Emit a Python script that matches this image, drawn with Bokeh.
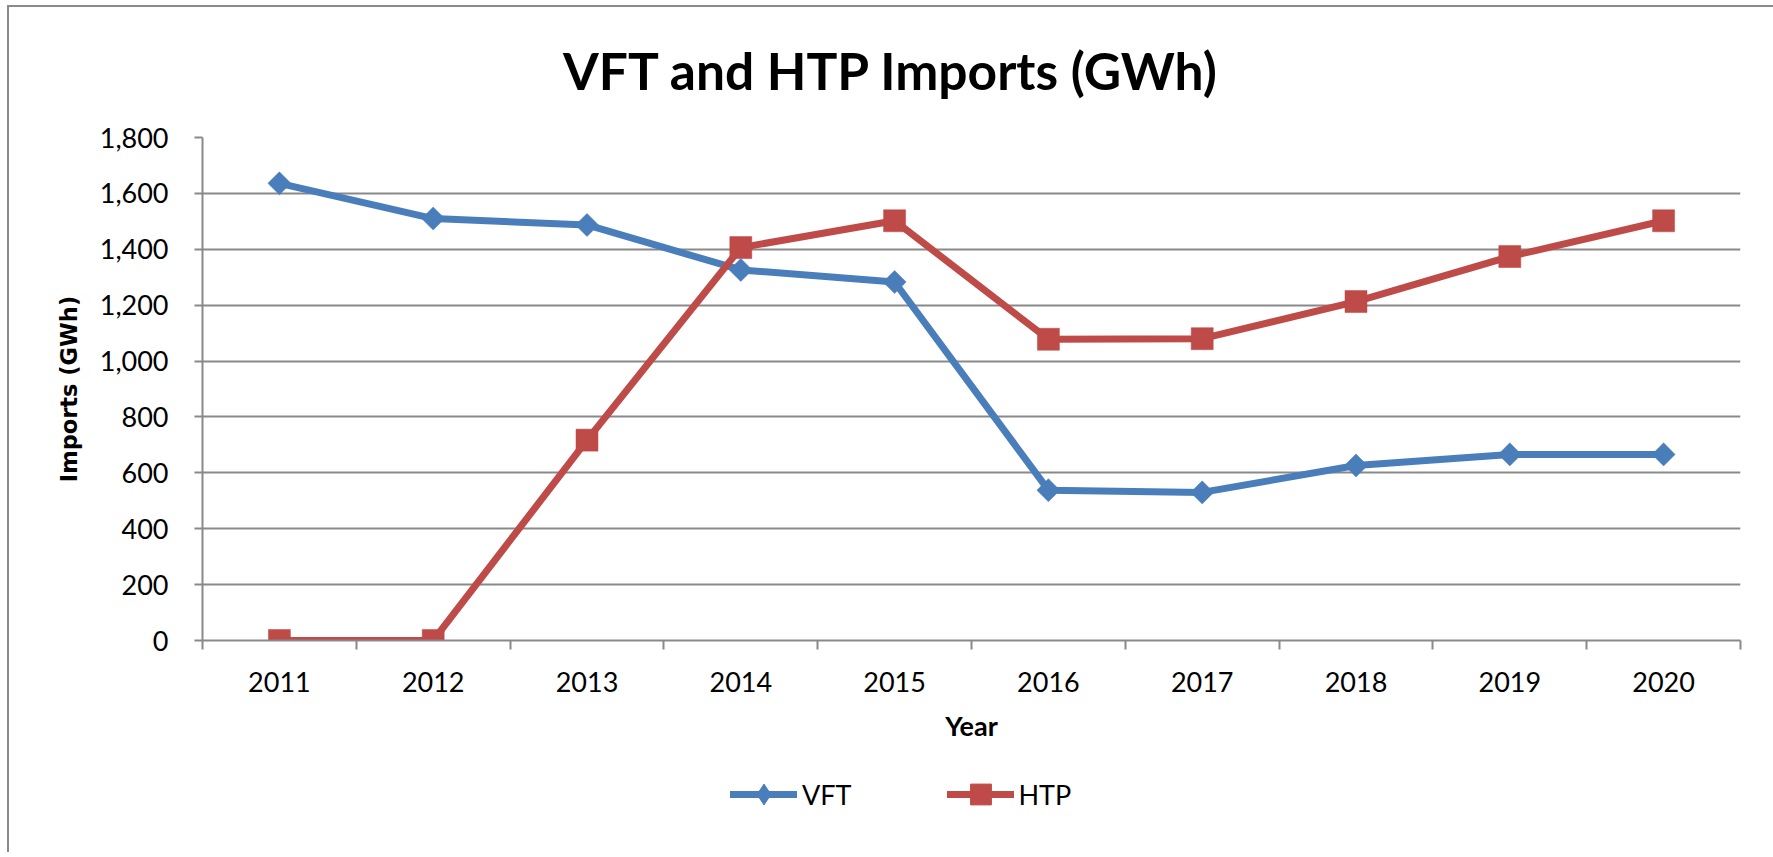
import math
from bokeh.plotting import figure
from bokeh.layouts import column
from bokeh.models import (ColumnDataSource, FixedTicker, SingleIntervalTicker, NumeralTickFormatter,
                          Range1d, Label, Legend, LegendItem)
from bokeh.embed import file_html
from bokeh.resources import INLINE

# ---- data ----
years = [2011, 2012, 2013, 2014, 2015, 2016, 2017, 2018, 2019, 2020]
vft = [1636, 1510, 1487, 1326, 1283, 538, 530, 626, 666, 666]
htp = [0, 0, 717, 1406, 1502, 1078, 1080, 1213, 1374, 1502]
series_names = ["VFT", "HTP"]
title_text = "VFT and HTP Imports (GWh)"
x_title = "Year"
y_title = "Imports (GWh)"

BLUE = "#4A7EBB"
RED = "#BE4B48"
GRID = "#898989"
FONT = "Lato"

W, HT, H1, H2 = 1764, 100, 660, 85
FRAME_LEFT, FRAME_RIGHT = 193, 33
FRAME_W = W - FRAME_LEFT - FRAME_RIGHT

# ---- title strip ----
tf = figure(width=W, height=HT, output_backend="svg", toolbar_location=None,
            x_range=Range1d(0, FRAME_W), y_range=Range1d(0, HT), x_axis_location=None, y_axis_location=None,
            min_border=0)
tf.title = None
tf.outline_line_color = None
tf.grid.visible = False
tf.border_fill_color = "white"
tf.add_layout(Label(x=FRAME_W / 2 - 80, y=HT / 2, text=title_text, text_align="center",
                    text_baseline="middle", text_font=FONT, text_font_style="bold",
                    text_font_size="51.5px", text_color="black", y_offset=-12))

# ---- main chart ----
p = figure(width=W, height=H1, output_backend="svg", toolbar_location=None,
           x_range=Range1d(years[0] - 0.5, years[-1] + 0.5), y_range=Range1d(0, 1800),
           min_border_left=FRAME_LEFT, min_border_right=FRAME_RIGHT, min_border_top=30, min_border_bottom=127)
p.outline_line_color = None
p.background_fill_color = "white"
p.border_fill_color = "white"

p.xgrid.grid_line_color = None
p.ygrid.grid_line_color = GRID
p.ygrid.grid_line_width = 2

p.yaxis.ticker = SingleIntervalTicker(interval=200)
p.yaxis.formatter = NumeralTickFormatter(format="0,0")
p.yaxis.axis_line_color = GRID
p.yaxis.axis_line_width = 2
p.yaxis.major_tick_line_color = GRID
p.yaxis.major_tick_line_width = 2
p.yaxis.major_tick_out = 8
p.yaxis.major_tick_in = 0
p.yaxis.minor_tick_line_color = None
p.yaxis.major_label_text_font = FONT
p.yaxis.major_label_text_font_size = "27px"
p.yaxis.major_label_text_color = "black"
p.yaxis.major_label_standoff = 26
p.yaxis.axis_label = y_title
p.yaxis.axis_label_text_font = "DejaVu Sans"
p.yaxis.axis_label_text_font_style = "bold"
p.yaxis.axis_label_text_font_size = "22.5px"
p.yaxis.axis_label_text_color = "black"
p.yaxis.axis_label_standoff = 15

bounds = [y - 0.5 for y in years] + [years[-1] + 0.5]
p.xaxis.ticker = FixedTicker(ticks=years, minor_ticks=bounds)
p.xaxis.axis_line_color = GRID
p.xaxis.axis_line_width = 2
p.xaxis.major_tick_line_color = None
p.xaxis.major_tick_out = 0
p.xaxis.major_tick_in = 0
p.xaxis.minor_tick_line_color = GRID
p.xaxis.minor_tick_line_width = 2
p.xaxis.minor_tick_out = 9
p.xaxis.minor_tick_in = 0
p.xaxis.major_label_text_font = FONT
p.xaxis.major_label_text_font_size = "27px"
p.xaxis.major_label_text_color = "black"
p.xaxis.major_label_standoff = 22
p.xaxis.axis_label = x_title
p.xaxis.axis_label_text_font = FONT
p.xaxis.axis_label_text_font_style = "bold"
p.xaxis.axis_label_text_font_size = "27px"
p.xaxis.axis_label_text_color = "black"
p.xaxis.axis_label_standoff = 14

src = ColumnDataSource(dict(x=years, vft=vft, htp=htp))

line_kw = dict(line_width=7, line_join="round", line_cap="round")
p.line("x", "vft", source=src, line_color=BLUE, **line_kw)
p.scatter("x", "vft", source=src, marker="square", angle=math.pi / 4, size=16.3,
          fill_color=BLUE, line_color=BLUE, line_width=0.5)
p.line("x", "htp", source=src, line_color=RED, **line_kw)
p.scatter("x", "htp", source=src, marker="square", size=22,
          fill_color=RED, line_color=RED, line_width=0.5)

# ---- legend strip ----
lg = figure(width=W, height=H2, output_backend="svg", toolbar_location=None,
            x_range=Range1d(0, 1), y_range=Range1d(0, 1), x_axis_location=None, y_axis_location=None,
            min_border=0)
lg.outline_line_color = None
lg.grid.visible = False
lg.border_fill_color = "white"
nan = float("nan")
leg_src = ColumnDataSource(dict(x=[nan], y=[nan]))  # legend-only renderers, draw nothing
lv = lg.line("x", "y", source=leg_src, line_color=BLUE, **line_kw)
lvm = lg.scatter("x", "y", source=leg_src, marker="diamond", fill_color=BLUE, line_color=BLUE)
lh = lg.line("x", "y", source=leg_src, line_color=RED, **line_kw)
lhm = lg.scatter("x", "y", source=leg_src, marker="square", fill_color=RED, line_color=RED)
legend = Legend(items=[LegendItem(label=series_names[0], renderers=[lv, lvm]),
                       LegendItem(label=series_names[1], renderers=[lh, lhm])],
                orientation="horizontal", location=(721 - FRAME_LEFT, H2 - 53),
                glyph_width=67, glyph_height=52, label_standoff=5, spacing=95,
                padding=0, margin=0, border_line_color=None, background_fill_alpha=0,
                label_text_font=FONT, label_text_font_size="27px", label_text_color="black")
lg.add_layout(legend, "center")

layout = column(tf, p, lg, spacing=0)
layout.styles = {"margin-left": "7px", "margin-top": "5px",
                 "border-left": "2px solid #8a8a8a", "border-top": "2px solid #8a8a8a"}

open("out.html", "w").write(file_html(layout, INLINE))
